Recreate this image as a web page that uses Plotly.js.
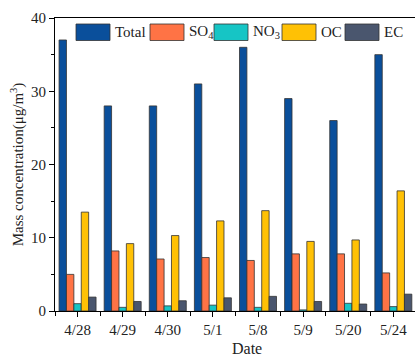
<!DOCTYPE html>
<html>
<head>
<meta charset="utf-8">
<script src="https://cdn.plot.ly/plotly-3.0.1.min.js"></script>
<style>html,body{margin:0;padding:0;background:#fff;}#chart{width:415px;height:358px;}</style>
</head>
<body>
<div id="chart"></div>
<script>
const dates = ["4/28","4/29","4/30","5/1","5/8","5/9","5/20","5/24"];
const seriesNames = ["Total","SO<sub>4</sub>","NO<sub>3</sub>","OC","EC"];
const total = [37, 28, 28, 31, 36, 29, 26, 35];
const so4 = [5.0, 8.2, 7.1, 7.3, 6.9, 7.8, 7.8, 5.2];
const no3 = [1.0, 0.5, 0.7, 0.8, 0.5, 0.15, 1.05, 0.6];
const oc = [13.5, 9.2, 10.3, 12.3, 13.7, 9.5, 9.7, 16.4];
const ec = [1.9, 1.3, 1.4, 1.8, 2.0, 1.3, 0.95, 2.3];
const yTicks = [0, 10, 20, 30, 40];

const colors = ["#0A4F9B", "#FF7345", "#16C5C5", "#FFC105", "#4A566E"];
const seriesValues = [total, so4, no3, oc, ec];
const xIdx = dates.map((d, i) => i);
const font = "Liberation Serif, Times New Roman, serif";

const traces = seriesValues.map((vals, k) => ({
  type: "bar",
  x: xIdx,
  y: vals,
  name: seriesNames[k],
  marker: {color: colors[k], line: {color: "#333", width: 0.8}},
  hoverinfo: "skip"
}));

// custom legend (swatches + labels) in paper coordinates
const L = 55, W = 360, T = 18, H = 293;
const px = x => (x - L) / W;
const py = y => 1 - (y - T) / H;
const swX = [76, 150, 214, 282, 345];
const shapes = [];
const annotations = [];
seriesNames.forEach((n, k) => {
  shapes.push({type: "rect", xref: "paper", yref: "paper",
    x0: px(swX[k]), x1: px(swX[k] + 34), y0: py(40.5), y1: py(24),
    fillcolor: colors[k], line: {color: "#333", width: 0.8}});
  annotations.push({xref: "paper", yref: "paper", x: px(swX[k] + 37), y: py(32.5),
    xanchor: "left", yanchor: "middle", showarrow: false, text: n,
    font: {family: font, size: 15, color: "#222"}});
});
annotations.push({xref: "paper", yref: "paper", x: px(247), y: py(348),
  xanchor: "center", yanchor: "middle", showarrow: false, text: "Date",
  font: {family: font, size: 16, color: "#222"}});

const layout = {
  width: 415, height: 358,
  margin: {l: L, r: 0, t: T, b: 358 - T - H},
  paper_bgcolor: "#fff", plot_bgcolor: "#fff",
  showlegend: false,
  barmode: "group", bargap: 0.18, bargroupgap: 0,
  font: {family: font, size: 15, color: "#222"},
  xaxis: {
    range: [-0.5, 7.48],
    tickmode: "array", tickvals: xIdx, ticktext: dates,
    ticks: "outside", ticklen: 5, tickwidth: 1, tickcolor: "#000",
    minor: {tick0: 0.5, dtick: 1, ticks: "outside", ticklen: 4, tickwidth: 1, tickcolor: "#000"},
    showline: true, linecolor: "#000", linewidth: 1, mirror: true,
    showgrid: false, zeroline: false,
    tickfont: {family: font, size: 15, color: "#222"}
  },
  yaxis: {
    range: [0, 40],
    tickmode: "array", tickvals: yTicks,
    ticks: "outside", ticklen: 5, tickwidth: 1, tickcolor: "#000",
    minor: {dtick: 5, ticks: "outside", ticklen: 3, tickwidth: 1, tickcolor: "#000"},
    showline: true, linecolor: "#000", linewidth: 1,
    showgrid: false, zeroline: false,
    tickfont: {family: font, size: 15, color: "#222"},
    title: {text: "Mass concentration(μg/m<sup>3</sup>)", standoff: 3,
      font: {family: font, size: 15, color: "#222"}}
  },
  shapes: shapes,
  annotations: annotations
};

Plotly.newPlot("chart", traces, layout, {displayModeBar: false, staticPlot: true});
</script>
</body>
</html>
